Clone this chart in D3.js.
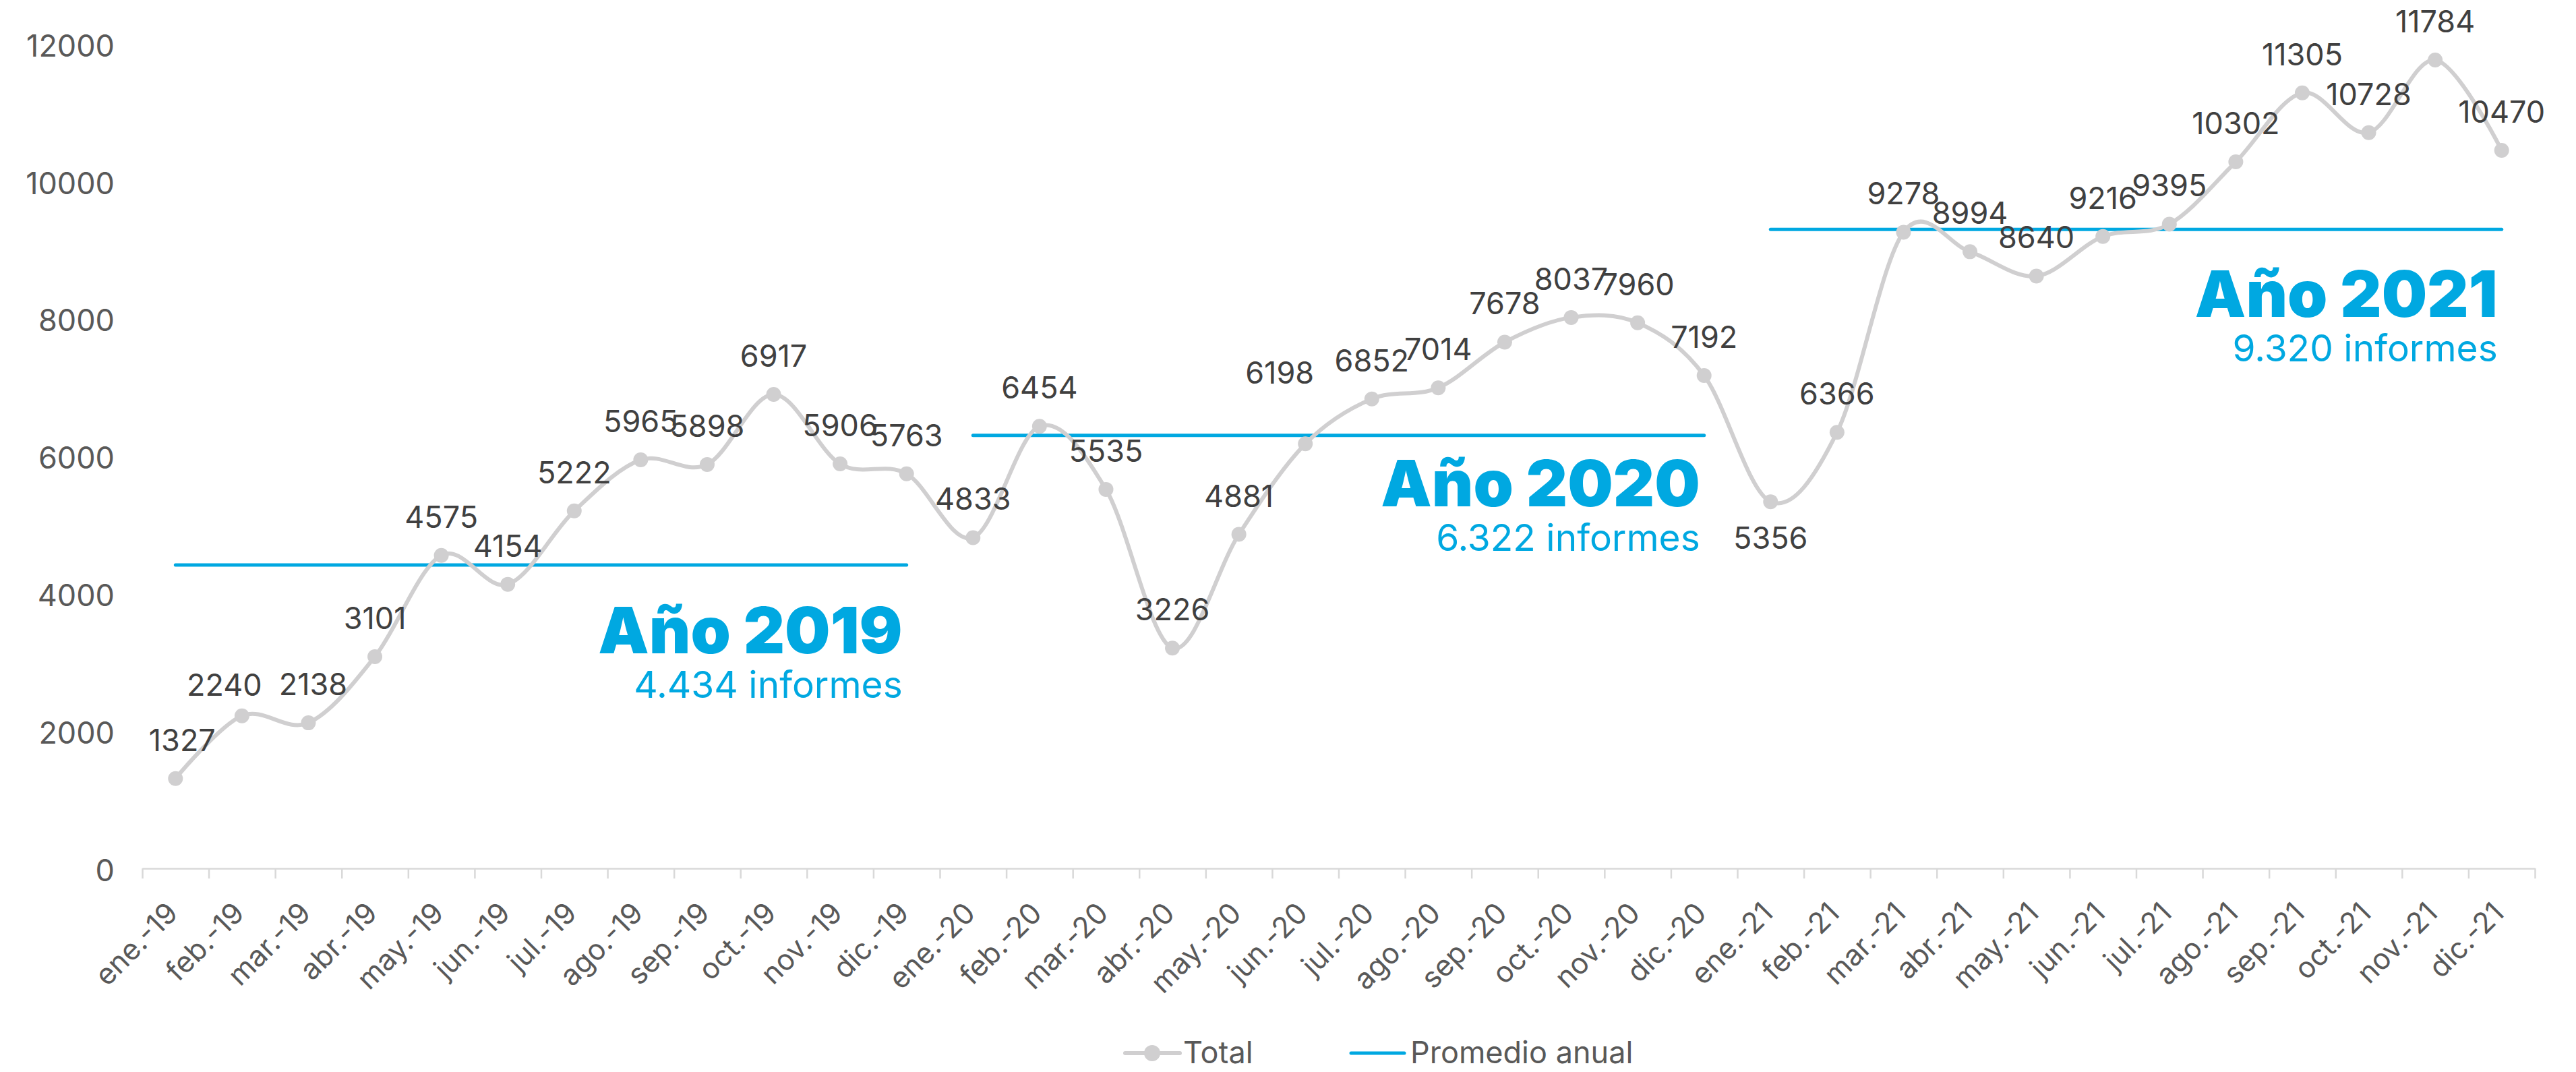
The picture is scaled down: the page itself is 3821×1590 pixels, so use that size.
<!DOCTYPE html>
<html>
<head>
<meta charset="utf-8">
<script src="https://cdn.jsdelivr.net/npm/d3@7"></script>
<style>
  body { margin: 0; background: #fff; }
  text { font-family: Inter, "Open Sans", sans-serif; }
</style>
</head>
<body>
<script>
// months on the x axis
var months = ["ene.-19","feb.-19","mar.-19","abr.-19","may.-19","jun.-19","jul.-19","ago.-19","sep.-19","oct.-19","nov.-19","dic.-19",
              "ene.-20","feb.-20","mar.-20","abr.-20","may.-20","jun.-20","jul.-20","ago.-20","sep.-20","oct.-20","nov.-20","dic.-20",
              "ene.-21","feb.-21","mar.-21","abr.-21","may.-21","jun.-21","jul.-21","ago.-21","sep.-21","oct.-21","nov.-21","dic.-21"];

// monthly total of informes
var totals = [1327, 2240, 2138, 3101, 4575, 4154, 5222, 5965, 5898, 6917, 5906, 5763,
              4833, 6454, 5535, 3226, 4881, 6198, 6852, 7014, 7678, 8037, 7960, 7192,
              5356, 6366, 9278, 8994, 8640, 9216, 9395, 10302, 11305, 10728, 11784, 10470];

// yearly averages
var years = ["2019", "2020", "2021"];
var averages = [4434, 6322, 9320];
var averageText = ["4.434 informes", "6.322 informes", "9.320 informes"];

var yTicks = [0, 2000, 4000, 6000, 8000, 10000, 12000];

var svgWidth = 3821;
var svgHeight = 1590;

var grey = "#d0cfd0";
var blue = "#00a8e1";

var svg = d3.select("body")
  .append("svg")
  .attr("width", svgWidth)
  .attr("height", svgHeight)
  .style("background", "#fff");

var x = d3.scaleBand()
  .domain(months)
  .range([211, 3760]);

// boundary scale for the tick marks between months
var xEdge = d3.scaleLinear()
  .domain([0, months.length])
  .range([211, 3760]);

var y = d3.scaleLinear()
  .domain([0, 12000])
  .range([1290, 67]);

var cx = function(i) { return x(months[i]) + x.bandwidth() / 2; };

// y axis: labels only
var yAxis = svg.append("g")
  .attr("transform", "translate(170,0)")
  .call(d3.axisLeft(y).tickValues(yTicks).tickFormat(d3.format("d")).tickSize(0).tickPadding(0));
yAxis.select(".domain").remove();
yAxis.selectAll("text")
  .attr("font-size", 45)
  .attr("fill", "#595959")
  .attr("dy", "0.36em");

// x axis line and ticks at month boundaries
var xTicks = svg.append("g")
  .attr("transform", "translate(0,1288)")
  .call(d3.axisBottom(xEdge).tickValues(d3.range(months.length + 1)).tickFormat("").tickSize(15).tickSizeOuter(0));
xTicks.select(".domain").attr("stroke", "#d9d9d9").attr("stroke-width", 2.5);
xTicks.selectAll(".tick line").attr("stroke", "#d9d9d9").attr("stroke-width", 2.5);

// x axis labels
var xAxis = svg.append("g")
  .attr("transform", "translate(0,1288)")
  .call(d3.axisBottom(x).tickSize(0).tickPadding(0));
xAxis.select(".domain").remove();
xAxis.selectAll("text")
  .attr("font-size", 43)
  .attr("fill", "#595959")
  .attr("text-anchor", "end")
  .attr("dy", 0)
  .attr("y", 0)
  .attr("transform", "translate(6,69) rotate(-45)");

// yearly average lines
averages.forEach(function(avg, k) {
  var first = k * 12, last = k * 12 + 11;
  svg.append("line")
    .attr("x1", cx(first))
    .attr("x2", cx(last))
    .attr("y1", y(avg))
    .attr("y2", y(avg))
    .attr("stroke", blue)
    .attr("stroke-width", 5)
    .attr("stroke-linecap", "round");
});

// total line (smoothed like the original)
var line = d3.line()
  .x(function(d, i) { return cx(i); })
  .y(function(d) { return y(d); })
  .curve(d3.curveCatmullRom.alpha(0));

svg.append("path")
  .datum(totals)
  .attr("d", line)
  .attr("fill", "none")
  .attr("stroke", grey)
  .attr("stroke-width", 6)
  .attr("stroke-linejoin", "round");

svg.selectAll("circle.pt")
  .data(totals)
  .enter()
  .append("circle")
  .attr("class", "pt")
  .attr("cx", function(d, i) { return cx(i); })
  .attr("cy", function(d) { return y(d); })
  .attr("r", 11)
  .attr("fill", grey);

// data labels, above the point except where the original puts it below
var below = ["ene.-21"];
var nudge = { "ene.-19": [10, 0], "feb.-19": [-26, 11], "mar.-19": [7, 0], "jun.-20": [-38, -48] };
svg.selectAll("text.lbl")
  .data(totals)
  .enter()
  .append("text")
  .attr("class", "lbl")
  .attr("x", function(d, i) { return cx(i) + (nudge[months[i]] ? nudge[months[i]][0] : 0); })
  .attr("y", function(d, i) {
    var n = nudge[months[i]] ? nudge[months[i]][1] : 0;
    return (below.indexOf(months[i]) >= 0 ? y(d) + 70 : y(d) - 41) + n;
  })
  .attr("text-anchor", "middle")
  .attr("font-size", 45)
  .attr("fill", "#404040")
  .text(function(d) { return d; });

// year annotations, right aligned to the end of each average line
var titleDy = [131, 105, 130];
years.forEach(function(yr, k) {
  var right = cx(k * 12 + 11) - 6;
  var base = y(averages[k]) + titleDy[k];
  svg.append("text")
    .attr("x", right)
    .attr("y", base)
    .attr("text-anchor", "end")
    .attr("font-size", 95)
    .attr("font-weight", 900)
    .attr("fill", blue)
    .text("Año " + yr);
  svg.append("text")
    .attr("x", right)
    .attr("y", base + 66)
    .attr("text-anchor", "end")
    .attr("font-size", 55)
    .attr("fill", blue)
    .text(averageText[k]);
});

// legend
var legend = svg.append("g").attr("transform", "translate(0,1562)");
legend.append("line")
  .attr("x1", 1669).attr("x2", 1750)
  .attr("stroke", grey).attr("stroke-width", 6).attr("stroke-linecap", "round");
legend.append("circle")
  .attr("cx", 1709).attr("r", 12).attr("fill", grey);
legend.append("text")
  .attr("x", 1755).attr("y", 15)
  .attr("font-size", 45).attr("fill", "#595959")
  .text("Total");
legend.append("line")
  .attr("x1", 2004).attr("x2", 2083)
  .attr("stroke", blue).attr("stroke-width", 5).attr("stroke-linecap", "round");
legend.append("text")
  .attr("x", 2092).attr("y", 15)
  .attr("font-size", 45).attr("fill", "#595959")
  .text("Promedio anual");
</script>
</body>
</html>
